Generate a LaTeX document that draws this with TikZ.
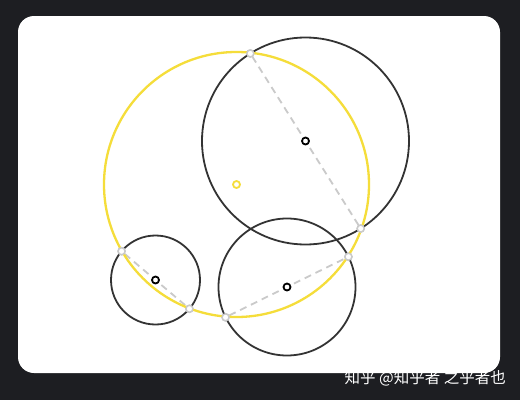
\documentclass[tikz,border=0pt]{standalone}
\usepackage{fontspec}
\newfontfamily\cjk{Noto Sans CJK SC}
\usetikzlibrary{calc}

\definecolor{bg}{HTML}{1D1E22}
\definecolor{ink}{HTML}{333333}
\definecolor{gold}{HTML}{F5DD3A}
\definecolor{chordgray}{HTML}{CACACA}

\tikzset{
  ring/.style={draw=ink, line width=1.8pt},
  chord/.style={draw=chordgray, line width=1.8pt, dash pattern=on 7pt off 5pt},
  meet/.style={circle, draw=chordgray, fill=white, line width=1.5pt, inner sep=0pt, minimum size=7pt},
  hub/.style={circle, draw=black, fill=white, line width=1.8pt, inner sep=0pt, minimum size=7pt},
}

\begin{document}
\begin{tikzpicture}[x=1pt, y=-1pt]

\fill[bg] (0,0) rectangle (520,400);
\fill[white, rounded corners=16pt] (18,16) rectangle (500,373);

\coordinate (yc)    at (236.5,184.5);
\coordinate (big)   at (305.5,141);
\coordinate (small) at (155.5,280);
\coordinate (mid)   at (287,287);

\node[meet] (big1)   at ($(big)!103.5pt!90:(yc)$) {};
\node[meet] (big2)   at ($(big)!103.5pt!-90:(yc)$) {};
\node[meet] (small1) at ($(small)!44.5pt!90:(yc)$) {};
\node[meet] (small2) at ($(small)!44.5pt!-90:(yc)$) {};
\node[meet] (mid1)   at ($(mid)!68.5pt!90:(yc)$) {};
\node[meet] (mid2)   at ($(mid)!68.5pt!-90:(yc)$) {};

\draw[chord] (big1) -- (big2);
\draw[chord] (small1) -- (small2);
\draw[chord] (mid1) -- (mid2);

\draw[ring] (big) circle[radius=103.5pt];
\draw[ring] (small) circle[radius=44.5pt];
\draw[ring] (mid) circle[radius=68.5pt];
\draw[draw=gold, line width=2.3pt] (yc) circle[radius=132.5pt];

\node[meet] at (big1) {};
\node[meet] at (big2) {};
\node[meet] at (small1) {};
\node[meet] at (small2) {};
\node[meet] at (mid1) {};
\node[meet] at (mid2) {};

\node[hub] (bighub)   at (big) {};
\node[hub] (smallhub) at (small) {};
\node[hub] (midhub)   at (mid) {};
\node[hub, draw=gold] (yhub) at (yc) {};

\node[text=white, anchor=east, inner sep=0pt, font=\cjk\fontsize{15.5}{15.5}\selectfont] (mark) at (506,378) {知乎 @知乎者 之乎者也};

\end{tikzpicture}
\end{document}
